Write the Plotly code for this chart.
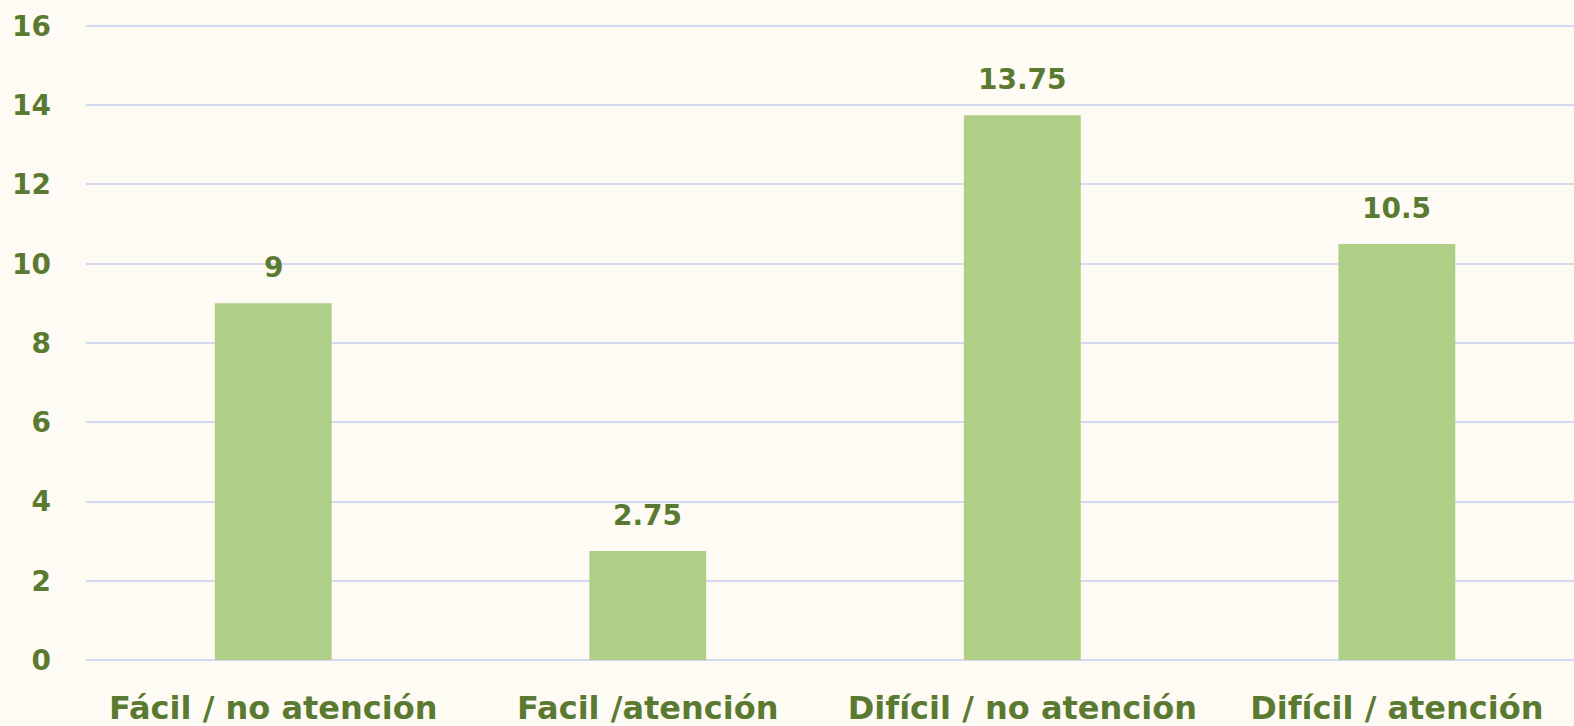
import plotly.graph_objects as go

categories = ["Fácil / no atención", "Facil /atención", "Difícil / no atención", "Difícil / atención"]
values = [9, 2.75, 13.75, 10.5]
value_labels = ["9", "2.75", "13.75", "10.5"]
y_ticks = [0, 2, 4, 6, 8, 10, 12, 14, 16]

GREEN_DARK = "#5B7A31"
BAR = "#AFCF86"
BG = "#FEFBF4"
GRID = "#D3D9F0"
FONT = "DejaVu Sans, sans-serif"

fig = go.Figure(go.Bar(
    x=categories, y=values,
    marker=dict(color=BAR, line=dict(width=0)),
    hoverinfo="skip",
))

for c, v, t in zip(categories, values, value_labels):
    fig.add_annotation(
        x=c, y=v, text=t, showarrow=False,
        yanchor="bottom", yshift=17,
        font=dict(family=FONT, size=28, color=GREEN_DARK, weight="bold"),
    )

fig.update_layout(
    width=1574, height=726,
    margin=dict(l=86, r=0, t=24, b=66),
    paper_bgcolor=BG, plot_bgcolor=BG,
    bargap=0.688,
    showlegend=False,
    font=dict(family=FONT, color=GREEN_DARK),
    xaxis=dict(
        range=[-0.5, 3.473],
        tickfont=dict(family=FONT, size=32, color=GREEN_DARK, weight="bold"),
        showgrid=False, zeroline=False, showline=False,
        ticks="", ticklabelstandoff=26,
    ),
    yaxis=dict(
        range=[0, 16.05], tickvals=y_ticks,
        tickfont=dict(family=FONT, size=28, color=GREEN_DARK, weight="bold"),
        showgrid=True, gridcolor=GRID, gridwidth=2,
        zeroline=True, zerolinecolor=GRID, zerolinewidth=2,
        showline=False, ticks="",
        ticklabelstandoff=34,
    ),
)

fig.write_html("out.html", config={"displayModeBar": False},
               post_script="document.body.style.margin='0';")
